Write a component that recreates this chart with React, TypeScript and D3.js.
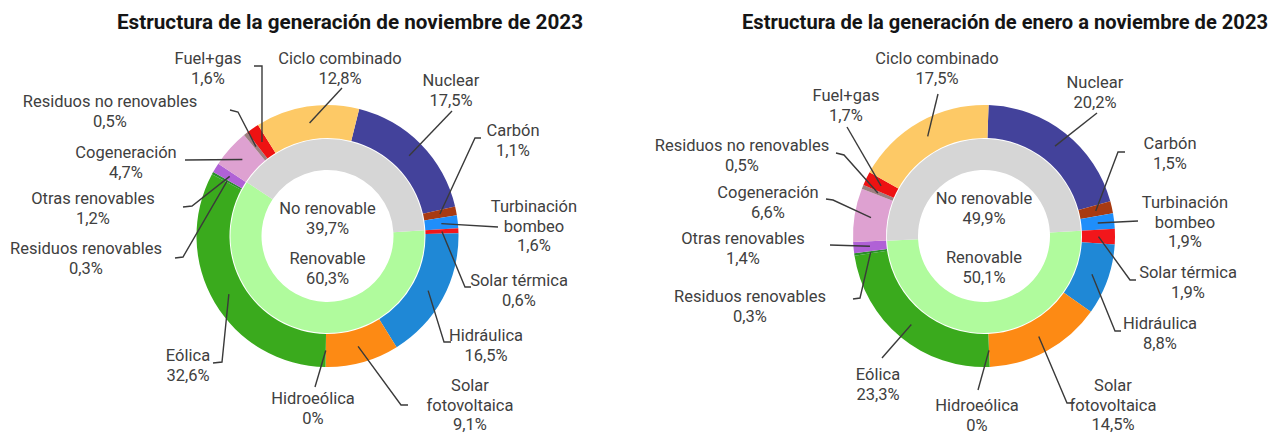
import React from "react";
import * as d3 from "d3";

const categories = [
  "Nuclear", "Carbón", "Turbinación bombeo", "Solar térmica", "Hidráulica",
  "Solar fotovoltaica", "Hidroeólica", "Eólica", "Residuos renovables",
  "Otras renovables", "Cogeneración", "Residuos no renovables", "Fuel+gas", "Ciclo combinado",
];
const novValues = [17.5, 1.1, 1.6, 0.6, 16.5, 9.1, 0, 32.6, 0.3, 1.2, 4.7, 0.5, 1.6, 12.8];
const eneNovValues = [20.2, 1.5, 1.9, 1.9, 8.8, 14.5, 0, 23.3, 0.3, 1.4, 6.6, 0.5, 1.7, 17.5];
const groups = ["No renovable", "Renovable"];
const novGroupValues = [39.7, 60.3];
const eneNovGroupValues = [49.9, 50.1];
const titles = [
  "Estructura de la generación de noviembre de 2023",
  "Estructura de la generación de enero a noviembre de 2023",
];

const colors: Record<string, string> = {
  "Nuclear": "#43429b",
  "Carbón": "#a83a12",
  "Turbinación bombeo": "#1f8efa",
  "Solar térmica": "#f2161b",
  "Hidráulica": "#1f88d6",
  "Solar fotovoltaica": "#fd8a14",
  "Hidroeólica": "#5cc8e0",
  "Eólica": "#3aaa1d",
  "Residuos renovables": "#2b8f2b",
  "Otras renovables": "#b061d6",
  "Cogeneración": "#dea1d1",
  "Residuos no renovables": "#9c7f80",
  "Fuel+gas": "#ee1212",
  "Ciclo combinado": "#fdc966",
};
const groupColors: Record<string, string> = { "No renovable": "#d6d6d6", "Renovable": "#b0fb9d" };

type Lay = { label: [number, number]; pts: [number, number][] };

const layout1: Record<string, Lay> = {
  "Nuclear": { label: [451, 80], pts: [[452, 111]] },
  "Carbón": { label: [513, 130], pts: [[475, 138], [481, 138]] },
  "Turbinación bombeo": { label: [534, 206], pts: [[498, 227]] },
  "Solar térmica": { label: [519, 280], pts: [[465, 287], [471, 287]] },
  "Hidráulica": { label: [486, 335], pts: [[444, 342], [451, 342]] },
  "Solar fotovoltaica": { label: [470, 385], pts: [[401, 405], [408, 405]] },
  "Hidroeólica": { label: [313, 398], pts: [[315, 387]] },
  "Eólica": { label: [188, 355], pts: [[222, 362], [213, 363]] },
  "Residuos renovables": { label: [86, 248], pts: [[183, 257], [175, 258]] },
  "Otras renovables": { label: [93, 198], pts: [[192, 206], [183, 207]] },
  "Cogeneración": { label: [126, 152], pts: [[185, 160]] },
  "Residuos no renovables": { label: [110, 101], pts: [[238, 112], [230, 110]] },
  "Fuel+gas": { label: [208, 58], pts: [[262, 66], [254, 66]] },
  "Ciclo combinado": { label: [340, 58], pts: [[342, 88]] },
};
const layout2: Record<string, Lay> = {
  "Nuclear": { label: [1095, 82], pts: [[1097, 113]] },
  "Carbón": { label: [1170, 143], pts: [[1118, 152], [1125, 152]] },
  "Turbinación bombeo": { label: [1185, 202], pts: [[1138, 221]] },
  "Solar térmica": { label: [1188, 272], pts: [[1130, 280], [1136, 280]] },
  "Hidráulica": { label: [1160, 323], pts: [[1115, 331], [1121, 331]] },
  "Solar fotovoltaica": { label: [1113, 385], pts: [[1067, 403], [1074, 403]] },
  "Hidroeólica": { label: [977, 405], pts: [[978, 390]] },
  "Eólica": { label: [878, 374], pts: [[882, 358]] },
  "Residuos renovables": { label: [750, 296], pts: [[860, 298], [853, 299]] },
  "Otras renovables": { label: [743, 238], pts: [[830, 245]] },
  "Cogeneración": { label: [768, 192], pts: [[833, 200], [826, 199]] },
  "Residuos no renovables": { label: [742, 145], pts: [[844, 155], [836, 153]] },
  "Fuel+gas": { label: [846, 95], pts: [[847, 127]] },
  "Ciclo combinado": { label: [937, 58], pts: [[938, 94]] },
};

const labelLines: Record<string, string[]> = {
  "Turbinación bombeo": ["Turbinación", "bombeo"],
  "Solar fotovoltaica": ["Solar", "fotovoltaica"],
};

const fmt = (v: number) => (v === 0 ? "0%" : v.toFixed(1).replace(".", ",") + "%");

const FONT = "Roboto, 'Noto Sans', sans-serif";
const TEXT = "#404040";
const LH = 19.5;
const FS = 16.5;

const R_IN0 = 66, R_IN1 = 97, R_OUT0 = 98, R_OUT1 = 131;

function Donut(props: {
  cx: number; cy: number; start: number; values: number[]; groupValues: number[];
  layout: Record<string, Lay>; title: string; titleX: number; titleW: number; centerY: [number, number];
}) {
  const { cx, cy, start, values, groupValues, layout, title, titleX, titleW, centerY } = props;
  const s = (start * Math.PI) / 180;
  const pie = d3.pie<number>().sort(null).value((d) => d).startAngle(s).endAngle(s + 2 * Math.PI);
  const arcs = pie(values);
  const outer = d3.arc<d3.PieArcDatum<number>>().innerRadius(R_OUT0).outerRadius(R_OUT1);
  // inner ring: renewable starts where "Solar térmica" starts
  const renStart = arcs[3].startAngle;
  const innerPie = d3.pie<number>().sort(null).value((d) => d).startAngle(renStart).endAngle(renStart + 2 * Math.PI);
  const innerData = [groupValues[1], groupValues[0]];
  const innerArcs = innerPie(innerData);
  const inner = d3.arc<d3.PieArcDatum<number>>().innerRadius(R_IN0).outerRadius(R_IN1);
  const innerNames = [groups[1], groups[0]];

  return (
    <g>
      <text x={titleX} y={29} textAnchor="middle" fontFamily="Roboto, sans-serif"
        fontWeight="bold" fontSize={20} fill="#151515" textLength={titleW} lengthAdjust="spacingAndGlyphs">{title}</text>
      <g transform={`translate(${cx},${cy})`}>
        {innerArcs.map((a, i) => (
          <path key={"in" + i} d={inner(a) || ""} fill={groupColors[innerNames[i]]} />
        ))}
        {arcs.map((a, i) => (
          <path key={"out" + i} d={outer(a) || ""} fill={colors[categories[i]]} />
        ))}
      </g>
      {arcs.map((a, i) => {
        const name = categories[i];
        const lay = layout[name];
        const [px, py] = outer.centroid(a);
        const pts: [number, number][] = [[cx + px, cy + py], ...lay.pts];
        const line = d3.line()(pts) || "";
        const lines = [...(labelLines[name] || [name]), fmt(values[i])];
        return (
          <g key={"lab" + i}>
            <path d={line} fill="none" stroke="#3a3a3a" strokeWidth={1.4} />
            <text x={lay.label[0]} y={lay.label[1]} textAnchor="middle" fontFamily={FONT} fontSize={FS} fill={TEXT}
              dominantBaseline="central">
              {lines.map((t, j) => (
                <tspan key={j} x={lay.label[0]} y={lay.label[1] + j * LH}>{t}</tspan>
              ))}
            </text>
          </g>
        );
      })}
      {groups.map((g, i) => (
        <text key={"g" + i} x={cx} y={centerY[i]} textAnchor="middle" fontFamily={FONT} fontSize={FS} fill={TEXT}
          dominantBaseline="central">
          <tspan x={cx} y={centerY[i]}>{g}</tspan>
          <tspan x={cx} y={centerY[i] + LH}>{fmt(groupValues[i])}</tspan>
        </text>
      ))}
    </g>
  );
}

export default function App() {
  return (
    <svg width={1282} height={434} style={{ position: "absolute", left: 0, top: 0, background: "#fff" }}>
      <rect width={1282} height={434} fill="#fff" />
      <Donut cx={327.5} cy={236} start={14} values={novValues} groupValues={novGroupValues}
        layout={layout1} title={titles[0]} titleX={350} titleW={466} centerY={[208, 258]} />
      <Donut cx={984} cy={236} start={2} values={eneNovValues} groupValues={eneNovGroupValues}
        layout={layout2} title={titles[1]} titleX={1005} titleW={526} centerY={[198, 257]} />
    </svg>
  );
}
